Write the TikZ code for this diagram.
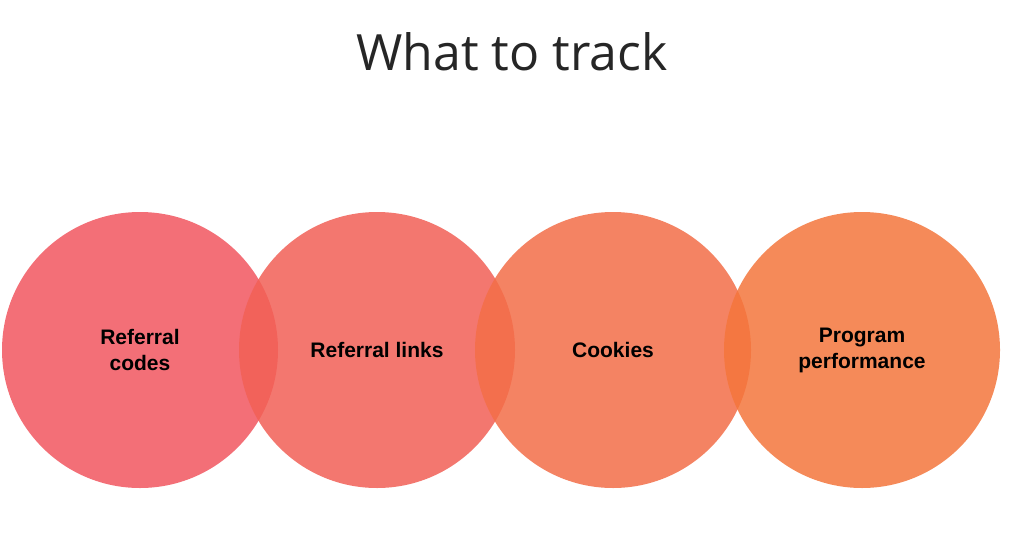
\documentclass[tikz,border=0pt]{standalone}
\usepackage{fontspec}
\setmainfont{Liberation Sans}
\newfontfamily\titlefont{Open Sans}
\begin{document}
\begin{tikzpicture}[x=1pt,y=-1pt,
  circ/.style={circle,minimum size=276pt,inner sep=0pt,fill opacity=0.85,text opacity=1,
    font=\bfseries\fontsize{21}{26}\selectfont,align=center,text=black}]
\useasboundingbox[fill=white] (0,0) rectangle (1024,559);
\node[font=\titlefont\fontsize{50}{60}\selectfont,text=black!85] (title) at (512,52) {What to track};
\node[circ,fill={rgb,255:red,241;green,86;blue,96}] (c1) at (140,350) {Referral\\codes};
\node[circ,fill={rgb,255:red,242;green,96;blue,86}] (c2) at (377,350) {Referral links};
\node[circ,fill={rgb,255:red,243;green,110;blue,72}] (c3) at (613,350) {Cookies};
\node[circ,fill={rgb,255:red,244;green,118;blue,60}] (c4) at (862,350) {Program\\performance};
\end{tikzpicture}
\end{document}
